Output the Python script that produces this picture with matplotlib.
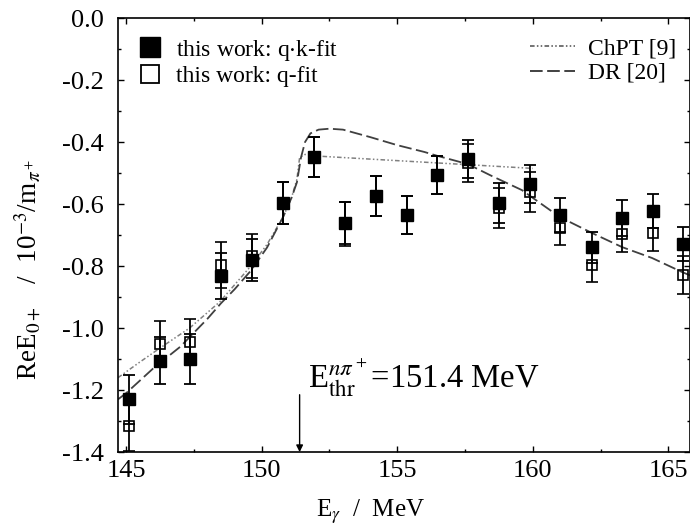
import matplotlib
matplotlib.use("Agg")
import matplotlib.pyplot as plt
from matplotlib.lines import Line2D
from matplotlib.ticker import MultipleLocator, FormatStrFormatter

plt.rcParams['font.family'] = ['Liberation Serif', 'DejaVu Serif']
plt.rcParams['mathtext.fontset'] = 'stix'
plt.rcParams['axes.unicode_minus'] = False

# photon energies of the data points (MeV)
e_gamma = [145.1, 146.24, 147.34, 148.49, 149.63, 150.78, 151.92, 153.06, 154.2,
           155.35, 156.46, 157.6, 158.74, 159.9, 161.0, 162.18, 163.29, 164.43, 165.54]

# q.k-fit results
qk_val = [-1.23, -1.105, -1.10, -0.832, -0.781, -0.597, -0.448, -0.661, -0.574,
          -0.636, -0.506, -0.455, -0.597, -0.535, -0.636, -0.739, -0.645, -0.623, -0.729]
qk_err = [0.08, 0.075, 0.08, 0.075, 0.068, 0.068, 0.065, 0.068, 0.064,
          0.062, 0.062, 0.06, 0.064, 0.062, 0.055, 0.05, 0.058, 0.055, 0.055]

# q-fit results
q_val = [-1.316, -1.052, -1.045, -0.797, -0.768, -0.597, -0.448, -0.665, -0.574,
         -0.636, -0.506, -0.468, -0.613, -0.561, -0.677, -0.797, -0.697, -0.694, -0.829]
q_err = [0.08, 0.075, 0.075, 0.074, 0.07, 0.068, 0.065, 0.07, 0.064,
         0.062, 0.062, 0.062, 0.064, 0.064, 0.055, 0.055, 0.058, 0.058, 0.06]

# ChPT prediction
chpt_e = [144.7, 145.5, 146.24, 147.34, 148.46, 149.6, 150.2, 150.8, 151.1, 151.3,
          151.4, 151.6, 152.0, 154.0, 156.0, 158.0, 160.0]
chpt_v = [-1.16, -1.11, -1.065, -1.0, -0.915, -0.80, -0.73, -0.64, -0.58, -0.52,
          -0.45, -0.44, -0.445, -0.455, -0.465, -0.475, -0.485]

# dispersion relation prediction
dr_e = [144.7, 145.0, 146.0, 147.0, 148.0, 148.5, 149.0, 149.6, 150.2, 150.8, 151.1,
        151.3, 151.45, 151.6, 151.8, 152.1, 152.5, 153.0, 154.0, 155.0, 156.0, 156.5,
        157.6, 158.5, 159.6, 160.0, 161.0, 162.2, 163.3, 164.4, 165.5, 165.8]
dr_v = [-1.23, -1.21, -1.13, -1.06, -0.97, -0.92, -0.875, -0.815, -0.74, -0.64, -0.58,
        -0.53, -0.45, -0.40, -0.372, -0.36, -0.357, -0.36, -0.384, -0.41, -0.432, -0.445,
        -0.471, -0.51, -0.555, -0.58, -0.642, -0.694, -0.739, -0.774, -0.819, -0.83]

threshold = 151.4

fig = plt.figure(figsize=(6.9, 5.3), dpi=100)
ax = fig.add_axes([0.171, 0.147, 0.829, 0.819])

chpt_style = (0, (3, 1.5, 1, 1.5, 1, 1.5))
dr_style = (0, (7, 2.5))
ax.plot(chpt_e, chpt_v, color='0.5', lw=1.1, ls=chpt_style, zorder=2)
ax.plot(dr_e, dr_v, color='0.25', lw=1.3, ls=dr_style, zorder=2)

eb_kw = dict(fmt='s', ecolor='black', elinewidth=1.3, capsize=4.5, capthick=1.3, zorder=3)
ax.errorbar(e_gamma, qk_val, yerr=qk_err, mfc='black', mec='black', ms=8, **eb_kw)
ax.errorbar(e_gamma, q_val, yerr=q_err, mfc='none', mec='black', ms=7, mew=1.2, **eb_kw)

ax.set_xlim(144.7, 165.8)
ax.set_ylim(-1.4, 0.0)
ax.xaxis.set_major_locator(MultipleLocator(5))
ax.xaxis.set_minor_locator(MultipleLocator(2.5))
ax.yaxis.set_major_locator(MultipleLocator(0.2))
ax.yaxis.set_minor_locator(MultipleLocator(0.1))
ax.yaxis.set_major_formatter(FormatStrFormatter('%.1f'))
ax.tick_params(which='both', direction='in', top=True, right=True, labelsize=19)
ax.tick_params(which='major', length=4.5, width=1)
ax.tick_params(which='minor', length=2.5, width=1)
ax.tick_params(axis='y', which='major', pad=10)
ax.tick_params(axis='x', which='major', pad=6)
for s in ax.spines.values():
    s.set_linewidth(1.2)

ax.set_xlabel(r'E$_\gamma$  /  MeV', fontsize=18)
ax.xaxis.set_label_coords(0.442, -0.105)
ax.set_ylabel(r'ReE$_{0+}$   /  10$^{-3}$/m$_{\pi^+}$', fontsize=19.5)
ax.yaxis.set_label_coords(-0.133, 0.42)

# threshold marker
ax.annotate('', xy=(threshold, -1.4), xytext=(threshold, -1.215),
            arrowprops=dict(arrowstyle='-|>', color='black', lw=1.0, mutation_scale=10,
                            shrinkA=0, shrinkB=0))
ax.text(threshold + 0.3, -1.16, r'E$_{\rm thr}^{n\pi^+}$=' + f'{threshold} MeV',
        fontsize=23.5, va='center', ha='left')

h_data = [Line2D([], [], ls='none', marker='s', mfc='black', mec='black', ms=14),
          Line2D([], [], ls='none', marker='s', mfc='white', mec='black', ms=13, mew=1.3)]
leg1 = ax.legend(h_data, ['this work: q$\\cdot$k-fit', 'this work: q-fit'],
                 loc='upper left', bbox_to_anchor=(0.036, 0.955), frameon=False,
                 fontsize=17, handlelength=1.0, handletextpad=0.6, labelspacing=0.14,
                 borderaxespad=0.0, borderpad=0.0)
ax.add_artist(leg1)
h_lines = [Line2D([], [], color='0.3', lw=1.1, ls=chpt_style),
           Line2D([], [], color='0.2', lw=1.3, ls=dr_style)]
ax.legend(h_lines, ['ChPT [9]', 'DR [20]'], loc='upper left', bbox_to_anchor=(0.72, 0.955),
          frameon=False, fontsize=17, handlelength=1.9, handletextpad=0.55, labelspacing=0.14,
          borderaxespad=0.0, borderpad=0.0)

fig.savefig('out.png', dpi=100)
